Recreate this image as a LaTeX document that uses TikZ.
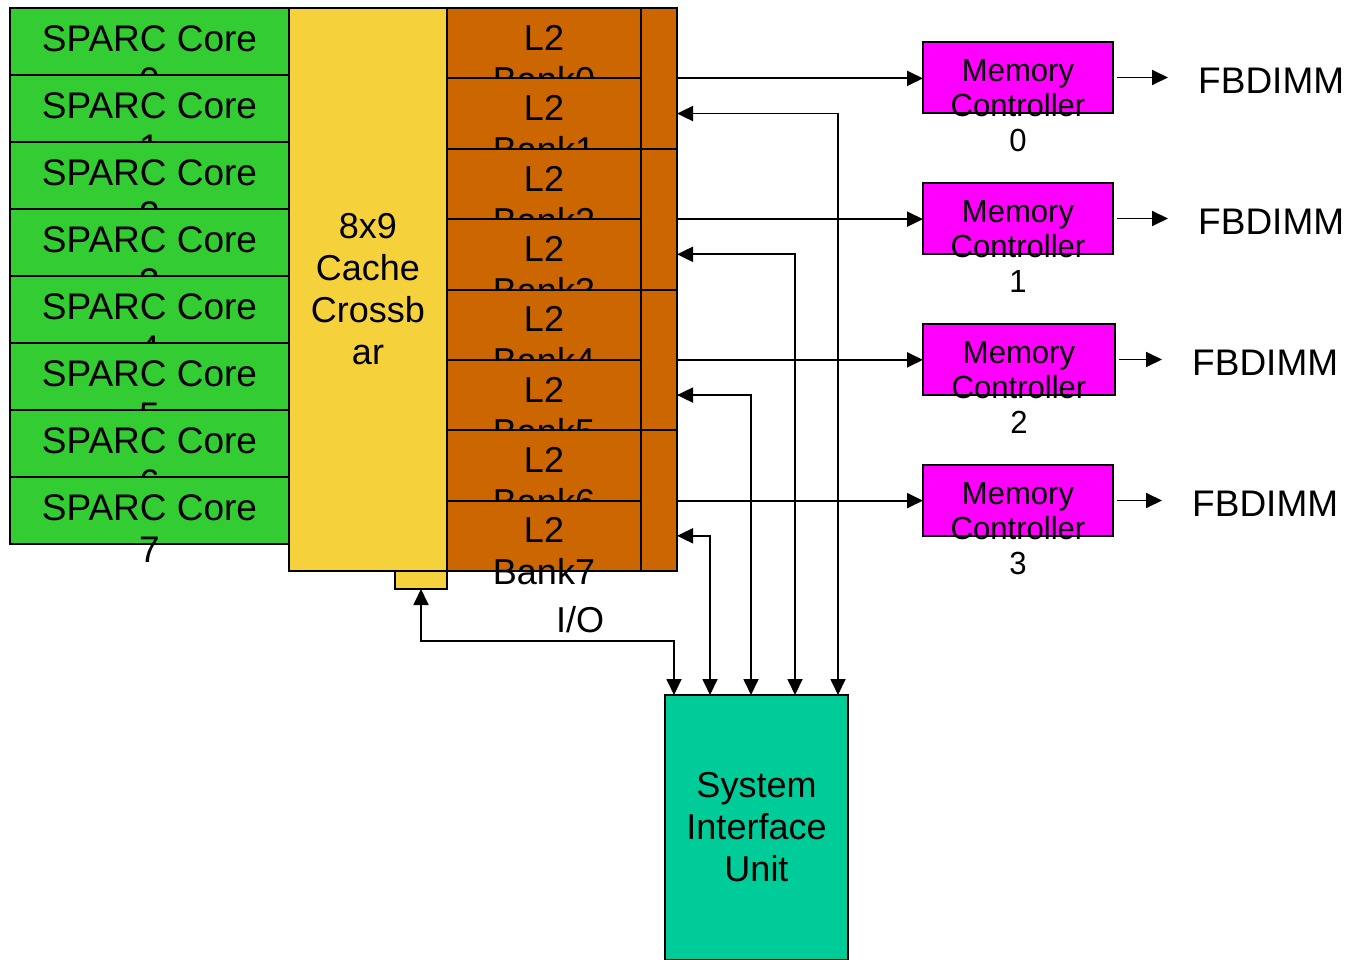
\documentclass[tikz,border=0pt]{standalone}
\usepackage{fontspec}
\setmainfont{Liberation Sans}
\newfontfamily\narrowfont[FakeStretch=0.97]{Liberation Sans}
\usepackage{tikz}
\usetikzlibrary{arrows.meta}

\definecolor{coregreen}{RGB}{51,204,51}
\definecolor{xbaryellow}{RGB}{245,209,60}
\definecolor{bankorange}{RGB}{204,102,0}
\definecolor{mcmagenta}{RGB}{255,0,255}
\definecolor{siuteal}{RGB}{0,204,153}

\tikzset{
    blk/.style={draw=black, line width=2pt, inner sep=0pt, outer sep=0pt},
    big/.style={font=\fontsize{36}{42}\selectfont, align=center, inner sep=0pt},
    mctext/.style={font=\narrowfont\fontsize{32}{35}\selectfont, align=center, inner sep=0pt},
    link/.style={line width=1.8pt, -{Triangle[length=16pt,width=15pt]}},
    dbl/.style={line width=1.8pt, {Triangle[length=16pt,width=15pt]}-{Triangle[length=16pt,width=15pt]}}
}

\begin{document}
\begin{tikzpicture}[x=1pt,y=-1pt]
    \useasboundingbox (0,0) rectangle (1346,960);

    % Draw the cores
    \foreach \k in {0,...,7} {
        \node[blk, fill=coregreen, minimum width=279pt, minimum height=67pt] (core\k) at (149.5, 41.5+67*\k) {};
        \node[big, font=\fontsize{37}{42}\selectfont, anchor=north] (coretxt\k) at ([yshift=-17pt]core\k.north) {SPARC Core\\\k};
    }

    % Draw the crossbar
    \node[blk, big, fill=xbaryellow, minimum width=158pt, minimum height=563pt] (xbar) at (368,289.5) {8x9\\Cache\\Crossb\\ar};
    \node[blk, fill=xbaryellow, minimum width=52pt, minimum height=18pt] (tab) at (421,580) {};

    % Draw the L2 banks
    \foreach \k in {0,...,7} {
        \node[blk, fill=bankorange, minimum width=194pt, minimum height=70.375pt] (bank\k) at (544, 43.1875+70.375*\k) {};
        \node[big, anchor=north] (banktxt\k) at ([yshift=-17pt]bank\k.north) {L2\\Bank\k};
    }
    \foreach \j in {0,...,3}
        \node[blk, fill=bankorange, minimum width=36pt, minimum height=140.75pt] (grp\j) at (659, 78.375+140.75*\j) {};

    \node[big] (io) at (580,620) {I/O};

    % Draw the memory controllers
    \foreach \j/\w/\fx in {0/190/1198, 1/190/1198, 2/192/1192, 3/190/1192} {
        \node[blk, fill=mcmagenta, minimum width=\w pt, minimum height=71pt, anchor=north west] (mc\j) at (923, 42+141*\j) {};
        \node[mctext, anchor=north] (mctxt\j) at ([yshift=-17pt]mc\j.north) {Memory\\Controller\\\j};
        \node[big, font=\fontsize{37}{42}\selectfont, anchor=west] (fb\j) at (\fx, 81+141*\j) {FBDIMM};
        \draw[link] (grp\j.east) -- (grp\j.east -| mc\j.west);
        \draw[link, shorten <=4pt, shorten >=30pt] (mc\j.east) -- (mc\j.east -| fb\j.west);
    }

    % Draw the system interface unit
    \node[blk, big, fill=siuteal, minimum width=183pt, minimum height=265pt] (siu) at (756.5,827.5) {System\\Interface\\Unit};

    \foreach \j/\k/\dx in {0/1/81.5, 1/3/38.5, 2/5/-5.5, 3/7/-46.5}
        \draw[dbl] (grp\j.east |- bank\k.center) -| ([xshift=\dx pt]siu.north);
    \draw[dbl] (tab.south) -- ++(0,52) -| ([xshift=-82.5pt]siu.north);

\end{tikzpicture}
\end{document}
